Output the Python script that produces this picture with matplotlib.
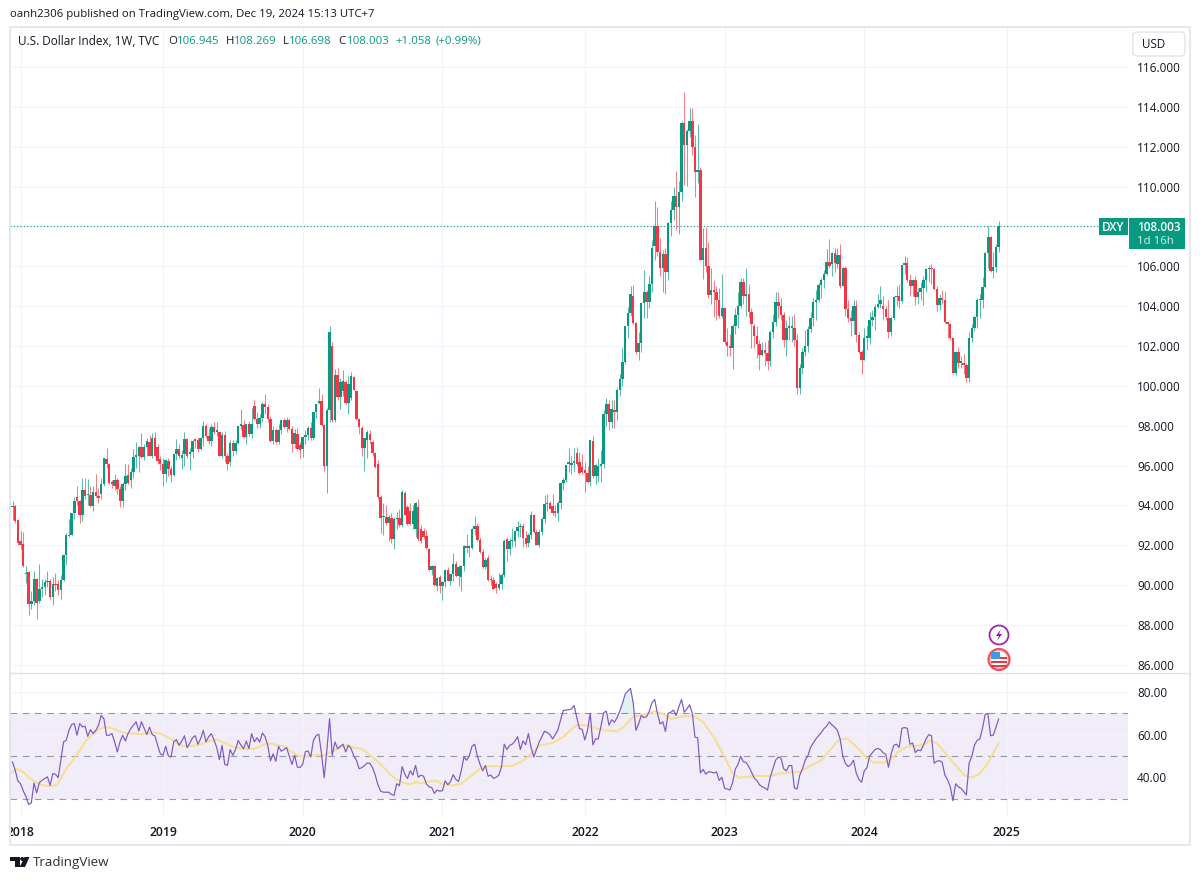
import numpy as np
import matplotlib
matplotlib.use("Agg")
import matplotlib.pyplot as plt
from matplotlib.patches import Rectangle, Circle, FancyBboxPatch, Polygon
from matplotlib.transforms import Affine2D, Bbox, IdentityTransform, TransformedBbox

# weekly DXY candles
opens = [
93.9,93.97,93.25,92.2,92.05,90.55,90.67,89.05,89.2,90.3,
89.2,89.8,89.9,90.15,90.2,89.4,90.05,90.05,89.75,90.25,
91.5,92.5,92.5,93.6,94.4,94.2,93.5,94.8,94.5,94.5,
93.95,94.7,94.45,94.6,95.1,96.35,96.1,95.15,95.0,95.3,
94.85,94.2,95.1,95.55,95.3,95.7,96.45,96.5,96.95,96.45,
96.95,97.2,96.5,97.4,96.95,96.35,96.1,95.6,96.25,95.85,
95.55,96.6,96.85,96.4,96.6,97.35,96.6,96.7,97.3,97.3,
96.85,97.4,97.97,97.5,97.25,97.95,97.7,97.7,96.5,97.55,
96.5,96.2,97.15,96.75,97.15,98.0,98.05,97.45,98.1,97.6,
99.0,98.35,98.1,98.4,99.1,98.95,98.35,97.25,97.8,97.2,
97.8,98.3,97.95,98.3,97.85,97.1,97.6,97.05,96.85,97.45,
97.55,97.9,97.4,98.7,99.15,99.25,98.05,96.0,98.8,102.0,
98.3,100.55,99.45,99.75,100.2,99.15,99.4,100.45,99.75,98.35,
97.9,96.9,97.3,97.6,97.2,96.65,96.1,94.4,93.4,93.4,
93.1,93.35,92.3,93.3,93.35,93.0,94.65,93.9,93.7,93.05,
92.8,93.9,92.8,92.7,92.45,91.8,90.75,90.95,89.95,90.4,
89.95,90.15,90.75,90.2,90.55,91.05,90.45,90.4,90.95,91.95,
91.85,91.85,92.8,92.95,92.25,91.65,90.9,91.35,90.25,90.25,
90.05,89.85,90.05,90.5,92.3,91.8,92.2,92.2,92.7,92.9,
92.95,92.35,92.1,92.5,93.5,92.65,92.0,92.65,93.3,94.05,
94.1,93.95,93.7,93.6,94.1,95.15,95.3,96.1,96.05,96.15,
96.65,96.2,95.95,95.8,95.65,95.2,97.25,95.5,95.5,96.0,
96.1,98.6,99.1,98.2,98.8,98.7,99.8,100.35,101.2,103.0,
103.65,104.5,103.15,101.7,102.15,104.15,104.7,104.2,105.1,107.0,
108.0,106.7,105.9,106.6,105.7,108.15,108.8,109.55,109.0,109.75,
113.2,112.1,112.8,113.3,112.0,110.75,110.85,106.3,106.9,106.0,
104.55,104.8,104.7,104.3,103.5,103.9,102.2,102.0,101.9,103.0,
103.55,104.0,105.2,104.5,104.6,103.7,103.0,102.5,102.1,101.55,
101.8,101.65,101.25,102.7,103.2,104.2,104.0,103.55,102.3,102.9,
102.9,102.9,102.3,99.9,100.9,101.7,102.0,102.85,103.4,104.2,104.3,
105.05,105.3,105.6,106.2,106.1,106.65,106.1,106.55,105.0,105.9,
103.85,103.4,103.25,104.0,102.55,101.7,101.3,102.4,102.4,103.3,
103.45,103.95,104.1,104.0,103.85,103.4,102.7,103.4,104.45,
104.5,104.25,106.05,106.15,105.3,105.0,105.3,104.45,104.7,104.9,
105.3,105.85,105.9,105.85,104.85,104.05,104.4,104.3,103.2,103.1,
102.4,100.65,101.7,101.15,101.15,101.05,100.4,102.4,102.9,103.45,
104.3,104.3,104.95,106.65,107.45,105.75,105.95,106.945]
highs = [
94.2,94.0,93.3,92.7,92.65,90.95,90.7,89.7,90.7,90.35,
91.05,90.3,90.3,90.7,90.3,90.4,90.6,90.25,90.5,91.5,
92.6,93.3,93.6,94.4,95.0,94.25,95.4,95.4,95.35,95.0,
95.0,95.6,94.9,95.4,96.4,96.9,96.15,95.3,95.6,95.4,
95.0,95.2,96.1,96.1,95.9,96.85,97.2,97.0,97.65,97.1,
97.4,97.55,97.65,97.7,97.1,96.5,96.4,96.35,96.4,96.0,
96.6,97.35,97.1,96.8,97.7,97.4,96.9,97.3,97.4,97.4,
97.45,98.25,98.1,97.9,98.1,98.2,98.2,97.75,97.7,97.75,
96.6,97.3,97.3,97.3,98.0,98.85,98.3,98.1,98.25,98.9,
99.3,98.7,98.6,99.2,99.6,99.1,98.5,98.0,97.9,98.1,
98.3,98.4,98.45,98.4,98.0,97.85,97.9,97.2,97.5,97.8,
98.0,98.2,98.7,99.1,99.9,99.6,98.1,98.9,103.0,102.2,
100.85,100.9,100.4,100.8,100.3,100.5,100.7,100.5,99.8,98.4,
98.0,97.4,97.8,97.8,97.3,96.7,96.3,94.5,94.1,94.0,
93.5,93.6,93.4,93.65,93.8,94.8,94.75,94.0,94.1,94.0,
94.15,94.3,93.0,92.85,92.75,91.85,91.0,91.0,90.4,90.5,
90.2,90.8,90.9,90.6,91.6,91.2,91.0,91.0,92.0,92.55,
92.0,92.85,93.45,93.1,92.4,91.8,91.35,91.5,90.5,90.4,
90.15,90.6,90.6,92.3,92.4,92.35,92.85,92.75,93.2,93.1,
93.1,92.7,92.6,93.7,93.55,92.8,92.8,93.4,94.5,94.55,
94.2,94.6,94.0,94.2,95.2,95.4,96.05,96.9,96.5,96.9,
96.95,96.7,96.6,96.2,96.0,97.3,97.5,96.1,96.4,96.8,
98.8,99.4,99.3,99.3,99.3,99.9,100.6,101.9,103.0,103.95,
105.0,105.05,103.2,102.7,104.2,105.8,104.8,105.5,107.3,109.3,
109.0,107.4,106.8,106.9,108.2,109.3,110.0,110.8,110.3,113.3,
114.75,112.9,113.95,113.95,112.6,113.15,111.0,107.9,107.95,107.2,
105.9,105.3,105.0,104.9,105.6,103.95,102.9,102.6,103.1,103.9,
104.7,105.4,105.4,105.9,105.1,103.9,103.1,103.0,102.3,102.2,
102.2,102.3,102.8,103.6,104.7,104.7,104.4,103.7,103.3,103.5,
103.5,103.6,102.6,101.1,101.9,102.8,103.0,103.7,104.4,104.8,105.15,
105.4,105.8,106.85,107.35,106.7,106.9,106.9,107.1,105.95,106.0,
104.3,103.8,104.3,104.3,102.7,101.8,102.9,103.0,103.7,103.8,
104.1,104.6,105.0,104.5,104.0,104.3,103.5,104.5,105.0,
105.1,106.05,106.5,106.45,105.6,105.35,105.5,104.9,105.2,105.5,
105.9,106.05,106.1,105.9,105.0,104.6,104.8,104.75,103.2,103.15,
102.4,101.75,101.95,101.5,101.6,101.15,102.7,103.1,103.5,104.4,
104.6,105.45,106.7,108.0,107.5,106.7,107.1,108.269]
lows = [
93.27,93.1,92.0,91.8,90.9,90.1,88.5,88.8,89.0,88.3,
89.1,89.4,89.5,89.9,89.3,89.0,89.7,89.5,89.3,90.2,
91.0,92.4,92.5,93.3,94.0,93.1,93.2,94.3,94.0,93.9,
93.7,94.4,94.1,94.3,95.0,95.9,95.1,94.9,94.8,94.6,
93.9,93.9,94.8,95.1,94.9,95.4,95.9,95.7,96.4,96.3,
96.5,96.5,96.4,96.5,96.1,95.8,95.0,95.2,95.5,95.2,
95.5,96.3,96.4,95.85,96.0,96.4,95.8,96.4,96.9,96.7,
96.8,97.0,97.4,97.1,97.0,97.6,97.5,96.5,96.4,96.2,
95.8,96.0,96.5,96.6,97.1,97.8,97.4,97.1,97.5,97.4,
98.3,97.9,97.9,98.2,98.6,98.2,97.2,97.1,97.1,97.1,
97.6,97.9,97.7,97.8,96.7,96.9,96.8,96.4,96.45,97.1,
97.3,97.3,97.3,98.4,99.1,98.0,95.75,94.65,98.2,98.2,
98.2,99.3,98.85,99.5,99.1,98.6,99.3,99.8,98.3,97.6,
96.5,95.75,96.4,97.1,96.5,95.9,94.3,92.6,92.5,93.0,
92.2,92.1,91.8,92.8,92.9,92.9,93.5,93.0,93.0,92.8,
92.4,92.2,92.1,92.3,91.8,90.7,90.5,89.95,89.7,89.6,
89.25,89.9,90.2,90.0,90.2,90.4,89.95,89.7,90.7,91.6,
91.4,91.8,92.5,92.2,91.6,90.85,90.8,90.2,90.0,89.8,
89.6,89.75,89.8,90.4,91.2,91.5,91.9,91.9,92.4,92.4,
91.9,91.9,91.9,92.3,92.6,92.0,91.9,92.5,93.1,93.7,
93.8,93.5,93.4,93.2,93.8,94.8,95.2,95.7,95.6,95.7,
96.0,95.6,95.6,94.7,95.15,95.0,95.4,95.1,95.2,95.2,
95.9,98.0,97.8,97.9,97.9,98.3,99.5,100.0,101.1,102.4,
103.5,103.1,101.6,101.3,101.7,103.4,103.4,103.9,104.7,106.3,
106.5,105.5,104.7,104.6,105.3,107.5,108.3,107.8,107.6,109.3,
110.1,110.05,112.5,111.6,109.5,110.2,106.3,105.35,105.7,104.4,
104.1,103.45,103.3,103.4,103.4,102.1,101.5,101.5,100.85,102.6,
102.9,103.9,104.1,103.5,103.4,101.9,101.9,101.4,100.8,101.5,
101.0,100.8,101.0,102.4,103.0,103.4,103.3,101.95,101.5,102.3,
102.2,102.0,99.6,99.6,100.6,101.5,101.7,102.7,103.0,103.3,104.2,
104.4,104.9,105.55,105.9,105.5,105.7,105.9,104.9,105.0,103.5,
103.2,102.5,102.6,102.2,101.65,100.6,101.3,101.8,102.1,103.0,
102.8,103.9,103.9,103.3,103.3,102.4,102.5,103.3,104.0,
103.9,104.15,105.6,105.2,104.5,104.5,104.05,104.1,104.3,104.05,
104.7,105.2,105.1,104.8,103.75,103.8,104.1,103.15,102.4,102.3,
100.6,100.55,100.9,100.9,100.6,100.2,100.2,102.2,102.75,102.9,
103.4,103.9,104.9,105.9,105.7,105.4,105.7,106.698]
closes = [
93.95,93.2,92.1,92.0,90.95,90.62,89.05,89.2,90.3,89.1,
89.8,89.9,90.15,90.2,89.4,90.05,90.0,89.75,90.25,91.5,
92.5,92.45,93.6,94.2,94.2,93.5,94.8,94.47,94.55,93.95,
94.7,94.45,94.35,95.1,96.4,96.1,95.15,95.1,95.3,94.85,
94.2,95.1,95.5,95.15,95.7,96.45,96.5,96.95,96.45,96.95,
97.25,96.5,97.4,96.5,96.25,96.1,95.6,96.3,95.85,95.55,
96.6,96.85,96.5,96.55,97.35,96.5,96.7,97.25,97.25,96.85,
97.4,97.97,97.5,97.25,97.95,97.7,97.7,96.5,97.55,96.5,
96.1,97.15,96.75,97.15,98.0,98.05,97.45,98.1,97.6,98.1,
98.35,98.1,98.4,99.1,98.93,98.35,97.25,97.8,97.2,97.8,
98.3,97.95,98.3,97.85,97.1,97.65,96.85,96.8,97.45,97.55,
97.9,97.4,98.7,99.1,99.25,98.05,95.97,98.8,102.7,98.3,
100.55,99.45,100.2,100.25,99.15,100.1,100.5,99.8,98.35,97.95,
96.9,97.4,97.7,97.3,96.65,95.95,94.4,93.35,93.4,93.1,
93.4,92.3,93.3,93.35,93.0,94.7,93.5,93.05,93.05,93.7,
94.1,92.3,92.2,92.4,91.85,90.75,90.95,90.0,90.35,89.95,
90.15,90.75,90.2,90.55,91.05,90.45,90.9,90.95,91.95,91.85,
91.95,92.8,92.95,92.25,91.65,90.9,91.25,90.25,90.25,89.8,
89.85,90.05,90.5,92.2,91.8,92.2,92.25,92.7,92.9,92.95,
92.35,92.05,92.5,93.5,92.65,92.0,92.65,93.3,94.05,94.05,
93.8,93.6,93.6,94.1,95.15,95.3,96.05,96.1,96.15,96.2,
96.1,95.65,95.7,95.65,95.2,97.3,95.5,96.05,96.0,96.1,
98.6,99.1,98.2,98.85,98.7,99.8,100.35,101.2,103.0,103.65,
104.6,103.15,101.7,102.15,104.15,104.7,104.2,105.1,106.9,108.0,
106.7,105.9,106.6,105.7,108.15,108.8,109.55,109.0,109.75,113.2,
112.1,112.8,113.3,112.0,110.75,110.85,106.3,106.9,106.0,104.55,
104.8,104.7,104.3,103.5,103.9,102.2,102.0,101.9,103.0,103.55,
104.0,105.2,104.5,104.6,103.7,103.1,102.5,102.1,101.55,101.8,
101.65,101.25,102.7,103.2,104.2,104.0,103.55,102.3,102.9,102.9,
102.9,102.3,99.9,100.9,101.7,102.0,102.85,103.4,104.2,104.3,105.05,
105.3,105.6,106.2,106.0,106.65,106.15,106.55,105.0,105.9,103.85,
103.4,103.25,104.0,102.55,101.7,101.3,102.4,102.45,103.3,103.45,
103.95,104.1,104.3,103.85,103.45,102.7,103.4,104.45,104.5,
104.25,106.05,106.15,105.3,105.0,105.3,104.45,104.7,104.9,105.3,
105.85,105.9,105.85,104.85,104.05,104.4,104.3,103.2,103.1,102.4,
100.65,101.7,101.15,101.2,101.05,100.4,102.4,102.9,103.45,104.3,
104.3,104.95,106.65,107.45,105.75,105.95,106.95,108.003]
rsi = [
47.2,43.3,38.3,37,33.6,31,27.2,28,37.3,32.7,
37.5,38.6,39.4,40.2,36.2,41.7,41.4,39.8,48,56.6,
57.3,62,64.7,65.2,59.7,65.2,63.6,64,59.2,62.3,
60.5,62,64.4,69,67.5,59.7,59.7,60.5,56.6,51.9,
56.6,59.7,57,60.5,62.8,64.4,66,61.7,66,63,
60,63.5,60,59.4,55,51,50.3,54.5,50,49.5,
56.6,57.7,55,57,59.5,53.9,56,58.5,59.5,55.5,
58,62,56.6,59,60.5,57.5,54,48.3,55,46,
45.6,53,50.3,53,57.3,55,53.4,57,53.5,60.5,
56.6,58.5,56.5,60.8,59,55,47.7,51,47.5,54.5,
52.2,53,53.9,50,46,50.3,44.8,44.6,46,52,
52.3,49.5,57.3,59.5,60.2,51,39.8,52.7,67.5,50.3,
56.6,53.4,54.5,55.5,51.9,55,53.5,50,48,44,
44.5,45.5,46.7,46.5,44.5,41,36.5,33.5,33,33,
33,32,31.5,37,36,45,41.5,39.4,43,41,
45.6,40,41,40.5,37,35.5,35.2,32.5,34,33.5,
33.7,38.3,36.5,38,41.2,39,38,43,49.5,48,
50,54.5,55.5,50,46,43,45.5,40.5,41,39.5,
40,41,45,55.5,53,55,55.5,57,59,53,
57,55.3,60.5,54,49.5,53,56.5,59,61.6,61,
60,58,60,62.3,67,71.4,71.5,71.7,72,73.7,
68,62.8,62.5,57.5,62,70,55.2,58,58,64,
70.3,71,64.4,67,65.8,68,71,74.6,79,80.5,
81.7,75,62,65,69,68,68.4,71,75,76.5,
70,65,66,61.5,70,70.5,71.5,69,73,76.5,
70.5,72,74,70,58.8,58.5,42,43.7,41.5,42.5,
42.5,42,42.5,38.5,40,34.8,34.5,34,37.5,43.8,
46,49.8,47.3,47,45,42.5,39.7,38.5,36.5,35.5,
35,34,40,44,48,49.5,49,44,43,45.5,
45.5,35,34.5,41,44,48,50,54,56,58,
59.5,61,62.8,64,66,64.5,63.5,62,58,50,
46.5,45,46,48,42,39,37.7,43,44.5,50,
51.5,53,53.5,53,51.5,50.8,44.7,51,55,55.5,
54,63,63.3,63,55.5,56,51.6,52.8,52.5,55,
58,60,59.5,46.6,47.5,47.8,47,41,38.8,35.6,
29,37,35.5,34.8,33.3,31.7,46.6,49.7,55,57.3,
58,63,69.5,70,59.5,59.7,63.5,67.3]
# RSI moving average, read at these week numbers
ma_weeks = [-1,1.5,4,6.5,9,11.5,14,16.5,18,20,22.5,25,27.5,30,32.5,35,37.5,40,42.5,45,47.5,50,
52.5,55,57.5,60,62.5,65,67.5,70,72.3,76,80,82,86,90,92,95,97,101,103,106,108,112,116,118,121,
124.4,127,130.6,133,135.5,138,140.5,143,145.5,148,150.4,151.7,155.4,158,160.4,164,167,170.3,
174,176.5,181.5,186,190,193.8,196,201,205,207.5,210,213.7,217.5,221,225,227.4,231,236,239,242,
245,250,253.5,257,261,265,268,270.4,273.4,277,282,285,289.5,293,298,300.6,303.7,307.4,310.5,
314,318,320.4,324,326.6,329.7,332.8,336.5,339,341.5,344,347.7,351.4,354.5,357,359.5,362.6,365,367]
ma_vals = [41.7,44,42.5,39.4,37.4,36.3,35.8,36.3,39.4,44,48,52.7,57.3,60.5,62.8,63.6,62.8,61.6,60.5,60.5,60.2,60.5,
61.1,60.5,59,57,55,54.5,54.8,55.5,56.6,57.7,55.5,54.3,53.2,53.3,54.5,56,55.5,54.5,52.7,50.3,49.8,50.3,50.3,51.5,53.4,
55,53.9,53,50.3,48,44.8,41.4,38.9,37.3,36.7,37.8,37,38.2,38.2,36.7,36.2,37,40.2,
44,45.2,45.2,45.3,47.7,51.9,55,56.1,58.9,62,64.4,64.4,62.8,62,61.6,63.6,68.3,69.5,70.9,69.8,
67.5,68.6,68.8,65.9,58.9,49.5,41.7,39.8,40.2,40.6,40.5,41.7,42.4,42.5,46.1,47.6,51.9,57.3,58.3,
54.4,48.9,46.9,46.9,48.1,52,54.4,54.7,55.2,57.2,56,50.5,45,40.7,39.9,41.2,45.9,51.4,55.8]

price_ticks = list(range(86, 118, 2))
rsi_ticks = [40, 60, 80]
rsi_levels = [70, 50, 30]
year_weeks = [3, 56, 108, 160, 213, 265, 317, 370]
year_labels = ["2018", "2019", "2020", "2021", "2022", "2023", "2024", "2025"]
last_price = 108.003

GREEN = "#089981"
RED = "#F23645"
GRID = "#f0f3fa"
TEXT = "#131722"
FONT = "Open Sans"

W, H = 1200, 880
plt.rcParams["font.family"] = FONT
fig = plt.figure(figsize=(W / 100, H / 100), dpi=100, facecolor="white")
px = Affine2D().scale(1, -1).translate(0, H)  # pixels from top left


def pane(x0, y0, x1, y1):
    return fig.add_axes([x0 / W, 1 - y1 / H, (x1 - x0) / W, (y1 - y0) / H])


def week_lim():
    return (10 - 12.5) / 2.687, (1128 - 12.5) / 2.687


weeks = np.arange(len(closes))
o, h, l, c = map(np.array, (opens, highs, lows, closes))
up = c >= o
colors = np.where(up, GREEN, RED)

ax = pane(10, 27, 1128, 673)
ax.set_xlim(*week_lim())
ax.set_ylim(116 - (673 - 67) / 19.93, 116 + (67 - 27) / 19.93)
ax.vlines(weeks, l, h, colors=colors, lw=0.75, alpha=0.65, zorder=2)
ax.bar(weeks, np.maximum(np.abs(c - o), 0.08), bottom=np.minimum(o, c), width=0.9, color=colors, lw=0, zorder=3)
ax.axhline(last_price, color=GREEN, lw=0.8, ls=(0, (1, 2)), zorder=1)

ax2 = pane(10, 673, 1128, 816)
ax2.set_xlim(*week_lim())
ax2.set_ylim(30 - (816 - 798.6) / 2.1325, 70 + (713.3 - 673) / 2.1325)
ax2.axhspan(30, 70, color="#7e57c2", alpha=0.1, lw=0, zorder=0)
for lev in rsi_levels:
    ax2.axhline(lev, color="#787b86", lw=0.8, ls=(0, (6, 5)), alpha=0.75, zorder=1)
r = np.array(rsi)
ax2.fill_between(weeks[226:233], r[226:233], 70, where=r[226:233] > 70, color=GREEN, alpha=0.12, lw=0, zorder=2)
ax2.plot(ma_weeks, ma_vals, color="#f6df94", lw=1.5, zorder=3)
ax2.plot(weeks, rsi, color="#7e57c2", lw=0.85, zorder=4)

for a, ticks, fmt in ((ax, price_ticks, "%.3f"), (ax2, rsi_ticks, "%.2f")):
    a.set_yticks(ticks)
    a.set_yticklabels([fmt % t for t in ticks])
    a.yaxis.tick_right()
    a.set_xticks(year_weeks)
    a.grid(True, color=GRID, lw=0.8, zorder=0)
    a.set_axisbelow(True)
    a.tick_params(axis="y", length=0, pad=6.5, labelsize=8.5, labelcolor=TEXT)
    for s in a.spines.values():
        s.set_visible(False)
ax.tick_params(axis="x", length=0, labelbottom=False)
ax2.set_xticklabels(year_labels)
ax2.tick_params(axis="x", length=0, pad=7, labelsize=8.8, labelcolor=TEXT)
for lab in ax2.get_xticklabels():
    lab.set_fontweight("semibold")
    lab.set_clip_box(TransformedBbox(Bbox([[11, 0], [1200, 880]]), IdentityTransform()))
    lab.set_clip_on(True)

# outer frame and pane divider
fig.add_artist(Rectangle((10, 27), 1180, 818, transform=px, fill=False, ec="#e0e3eb", lw=1.2))
fig.add_artist(plt.Line2D([10, 1190], [673, 673], transform=px, color="#e0e3eb", lw=1))

# header
fig.text(10, 14, "oanh2306 published on TradingView.com, Dec 19, 2024 15:13 UTC+7", transform=px,
         fontsize=8.2, color=TEXT, va="center")
fig.text(18, 41, "U.S. Dollar Index, 1W, TVC", transform=px, fontsize=8.5, color=TEXT, va="center")
legend_bits = [(168, "O", TEXT), (177, "106.945", GREEN), (226, "H", TEXT), (234, "108.269", GREEN),
               (283, "L", TEXT), (289, "106.698", GREEN), (338, "C", TEXT), (347, "108.003", GREEN),
               (395, "+1.058", GREEN), (435, "(+0.99%)", GREEN)]
for xp, s, col in legend_bits:
    fig.text(xp, 41, s, transform=px, fontsize=8.2, color=col, va="center")

# currency button
fig.add_artist(FancyBboxPatch((1133, 32), 52, 24, boxstyle="round,pad=0,rounding_size=4", transform=px,
                              fc="white", ec="#e0e3eb", lw=1))
fig.text(1154, 44, "USD", transform=px, fontsize=8.4, color=TEXT, ha="center", va="center")

# last price tags
fig.add_artist(Rectangle((1099, 218), 29, 17, transform=px, fc=GREEN, lw=0))
fig.add_artist(Rectangle((1129, 218), 56, 31, transform=px, fc=GREEN, lw=0))
fig.text(1113.5, 227, "DXY", transform=px, fontsize=8.4, color="white", ha="center", va="center", fontweight="semibold")
fig.text(1137, 227, "108.003", transform=px, fontsize=8.5, color="white", va="center", fontweight="semibold")
fig.text(1137, 241, "1d 16h", transform=px, fontsize=8.2, color="#d5efe9", va="center")

# event markers
fig.add_artist(Circle((999, 635), 9.5, transform=px, fc="white", ec="#9c27b0", lw=1.3))
fig.add_artist(Polygon([(1001, 629), (996, 636), (999, 636), (997, 641), (1002, 634), (999, 634)],
                       closed=True, transform=px, fc="#7b1fa2", lw=0))
fig.add_artist(Circle((999, 659.5), 10.5, transform=px, fc="#f7c5c8", ec="#f0515c", lw=1.6))
fig.add_artist(Circle((999, 659.5), 8, transform=px, fc="white", lw=0))
for yy in (657, 661, 665):
    fig.add_artist(Rectangle((991, yy), 16, 2, transform=px, fc="#e53945", lw=0))
fig.add_artist(Rectangle((991, 652), 8.5, 7, transform=px, fc="#3f9be8", lw=0))

# footer logo
fig.add_artist(Polygon([(10, 857), (19.5, 857), (19.5, 867), (14.5, 867), (14.5, 861), (10, 861)],
                       closed=True, transform=px, fc=TEXT, lw=0))
fig.add_artist(Circle((22.2, 859), 2, transform=px, fc=TEXT, lw=0))
fig.add_artist(Polygon([(24.5, 857), (29.5, 857), (25, 867), (19.7, 867)], closed=True, transform=px, fc=TEXT, lw=0))
fig.text(33, 862, "TradingView", transform=px, fontsize=9.6, color="#2a2e39", va="center")

fig.savefig("out.png", dpi=100, facecolor="white")
